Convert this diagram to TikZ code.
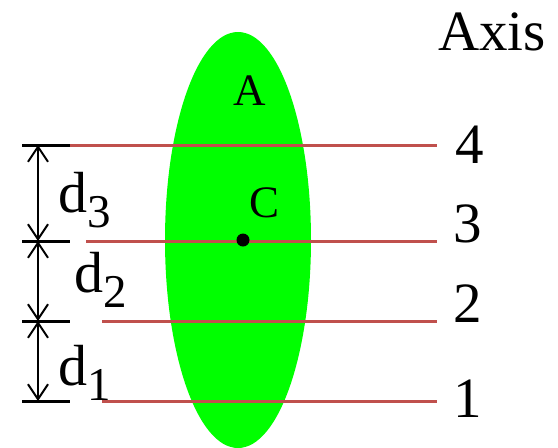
\documentclass[tikz,border=0pt]{standalone}
\usepackage{fontspec}
\setmainfont{Liberation Serif}
\usetikzlibrary{arrows.meta}
\definecolor{axisred}{RGB}{192,80,77}
\newcommand{\dsub}[1]{d\raisebox{-15pt}{\fontsize{47}{47}\selectfont #1}}

\begin{document}
\begin{tikzpicture}[
  x=1pt,y=-1pt,
  big/.style={font=\fontsize{57}{60}\selectfont,inner sep=0pt,anchor=base},
  mid/.style={font=\fontsize{45}{48}\selectfont,inner sep=0pt,anchor=base},
  dlabel/.style={font=\fontsize{58}{60}\selectfont,inner sep=0pt,anchor=base west},
  axisline/.style={draw=axisred,line width=3pt},
  tickline/.style={draw=black,line width=3pt},
  dimarrow/.style={{Straight Barb[length=15pt,width=20pt]}-{Straight Barb[length=15pt,width=20pt]},line width=2pt}
]
\useasboundingbox (0,0) rectangle (558,448);
\fill[green] (238,240) ellipse [x radius=73,y radius=208];
% axes
\coordinate (l4) at (70,145);  \coordinate (r4) at (437,145);
\coordinate (l3) at (86,241);  \coordinate (r3) at (437,241);
\coordinate (l2) at (102,321); \coordinate (r2) at (437,321);
\coordinate (l1) at (102,401); \coordinate (r1) at (437,401);
\draw[axisline] (l4) -- (r4);
\draw[axisline] (l3) -- (r3);
\draw[axisline] (l2) -- (r2);
\draw[axisline] (l1) -- (r1);
% ticks and distances
\coordinate (k4) at (22,145); \coordinate (e4) at (70,145); \coordinate (m4) at (38,145);
\coordinate (k3) at (22,241); \coordinate (e3) at (70,241); \coordinate (m3) at (38,241);
\coordinate (k2) at (22,321); \coordinate (e2) at (70,321); \coordinate (m2) at (38,321);
\coordinate (k1) at (22,401); \coordinate (e1) at (70,401); \coordinate (m1) at (38,401);
\draw[tickline] (k4) -- (e4);
\draw[tickline] (k3) -- (e3);
\draw[tickline] (k2) -- (e2);
\draw[tickline] (k1) -- (e1);
\draw[dimarrow] (m4) -- (m3);
\draw[dimarrow] (m3) -- (m2);
\draw[dimarrow] (m2) -- (m1);
\node[dlabel] (d3) at (58,212) {\dsub{3}};
\node[dlabel] (d2) at (74,292) {\dsub{2}};
\node[dlabel] (d1) at (58,385) {\dsub{1}};
% labels
\node[big] (axis) at (492,50) {Axis};
\node[big] (n4) at (470,163) {4};
\node[big] (n3) at (468,242) {3};
\node[big] (n2) at (468,322) {2};
\node[big] (n1) at (468,417) {1};
\node[mid] (area) at (250,105) {A};
\node[mid] (cname) at (265,217) {C};
\node[circle,fill=black,inner sep=0pt,minimum size=13pt] (centre) at (243,240) {};
\end{tikzpicture}
\end{document}
